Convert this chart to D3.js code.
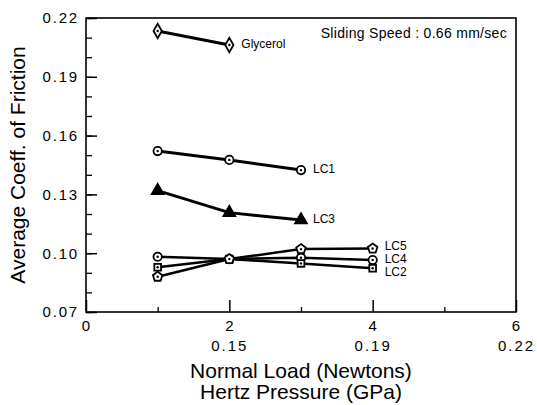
<!DOCTYPE html>
<html>
<head>
<meta charset="utf-8">
<script src="https://cdn.jsdelivr.net/npm/d3@7"></script>
<style>
  html, body { margin: 0; padding: 0; background: #fff; }
  svg { display: block; }
  text { font-family: "Liberation Sans", Arial, Helvetica, sans-serif; fill: #000; }
</style>
</head>
<body>
<svg id="chart" width="537" height="405"></svg>
<script>
// ---- data ----
const loads = [1, 2, 3, 4];
const glycerol = [0.2134, 0.2062];
const lc1 = [0.1521, 0.1476, 0.1424];
const lc3 = [0.1319, 0.1207, 0.1169];
const lc4 = [0.0982, 0.0970, 0.0977, 0.0965];
const lc2 = [0.0928, 0.0970, 0.0948, 0.0923];
const lc5 = [0.0880, 0.0970, 0.1021, 0.1024];
const seriesNames = ["Glycerol", "LC1", "LC3", "LC4", "LC2", "LC5"];
const xTickValues = [0, 2, 4, 6];
const hertzLabels = ["", "0.15", "0.19", "0.22"];
const yTickValues = [0.07, 0.10, 0.13, 0.16, 0.19, 0.22];
const annotation = "Sliding Speed : 0.66 mm/sec";
const xTitle1 = "Normal Load (Newtons)";
const xTitle2 = "Hertz Pressure (GPa)";
const yTitle = "Average Coeff. of Friction";

// ---- layout ----
const W = 537, H = 405;
const m = { left: 86, right: 21, top: 18, bottom: 93 };
const pw = W - m.left - m.right, ph = H - m.top - m.bottom;
const svg = d3.select("#chart");
const g = svg.append("g").attr("transform", `translate(${m.left},${m.top})`);

const x = d3.scaleLinear().domain([0, 6]).range([0, pw]);
const y = d3.scaleLinear().domain([0.07, 0.22]).range([ph, 0]);

// pentagon symbol
const pentagon = {
  draw(ctx, size) {
    const r = Math.sqrt(size / 2.4);
    for (let i = 0; i < 5; i++) {
      const a = -Math.PI / 2 + i * 2 * Math.PI / 5;
      const px = r * Math.cos(a), py = r * Math.sin(a);
      if (i === 0) ctx.moveTo(px, py); else ctx.lineTo(px, py);
    }
    ctx.closePath();
  }
};

const series = [
  { name: seriesNames[0], vals: glycerol, sym: d3.symbolDiamond, size: 60, fill: "#fff", lw: 3, dy: 0 },
  { name: seriesNames[1], vals: lc1, sym: d3.symbolCircle, size: 55, fill: "#fff", lw: 3, dy: 0 },
  { name: seriesNames[2], vals: lc3, sym: d3.symbolTriangle, size: 60, fill: "#000", lw: 3, dy: 0 },
  { name: seriesNames[3], vals: lc4, sym: d3.symbolCircle, size: 55, fill: "#fff", lw: 2.5, dy: 0 },
  { name: seriesNames[4], vals: lc2, sym: d3.symbolSquare, size: 45, fill: "#fff", lw: 2.5, dy: 5 },
  { name: seriesNames[5], vals: lc5, sym: pentagon, size: 60, fill: "#fff", lw: 2.5, dy: -2 }
];

// ---- axes (ticks inward) ----
const yMinor = d3.range(0.07, 0.2201, 0.01).map(v => +v.toFixed(2));
const yAx = g.append("g").call(
  d3.axisLeft(y).tickValues(yMinor).tickSize(-6).tickFormat("")
);
yAx.select(".domain").remove();
yAx.selectAll("line").attr("stroke-width", 1.3);
const yMaj = g.append("g").call(
  d3.axisLeft(y).tickValues(yTickValues).tickSize(-11).tickPadding(7).tickFormat(d3.format(".2f"))
);
yMaj.select(".domain").remove();
yMaj.selectAll("line").attr("stroke-width", 1.5);
yMaj.selectAll("text").attr("font-size", 15).attr("letter-spacing", 1.8)
  .style("font-family", '"Liberation Sans", Arial, sans-serif');

const xMinor = [1, 3, 5];
const xAx = g.append("g").attr("transform", `translate(0,${ph})`).call(
  d3.axisBottom(x).tickValues(xMinor).tickSize(-5).tickFormat("")
);
xAx.select(".domain").remove();
xAx.selectAll("line").attr("stroke-width", 1.3);
const xMaj = g.append("g").attr("transform", `translate(0,${ph})`).call(
  d3.axisBottom(x).tickValues(xTickValues).tickSize(-12).tickPadding(8).tickFormat(d3.format("d"))
);
xMaj.select(".domain").remove();
xMaj.selectAll("line").attr("stroke-width", 1.5);
xMaj.selectAll("text").attr("font-size", 15).attr("letter-spacing", 1)
  .style("font-family", '"Liberation Sans", Arial, sans-serif');
xMaj.selectAll(".tick").append("text")
  .attr("y", 39).attr("text-anchor", "middle")
  .attr("font-size", 15).attr("letter-spacing", 2)
  .style("font-family", '"Liberation Sans", Arial, sans-serif')
  .attr("fill", "#000")
  .text((d, i) => hertzLabels[i]);

// frame
g.append("rect").attr("x", 0).attr("y", 0).attr("width", pw).attr("height", ph)
  .attr("fill", "none").attr("stroke", "#000").attr("stroke-width", 1.6);

// ---- lines and markers ----
const line = d3.line().x(d => x(d[0])).y(d => y(d[1]));
series.forEach(s => {
  const pts = s.vals.map((v, i) => [loads[i], v]);
  g.append("path").datum(pts).attr("d", line)
    .attr("fill", "none").attr("stroke", "#000").attr("stroke-width", s.lw)
    .attr("stroke-linejoin", "round");
  const mk = g.append("g").selectAll("g").data(pts).join("g")
    .attr("transform", d => `translate(${x(d[0])},${y(d[1])})`);
  mk.append("path").attr("d", d3.symbol().type(s.sym).size(s.size))
    .attr("fill", s.fill).attr("stroke", "#000").attr("stroke-width", 1.8);
  if (s.fill === "#fff") mk.append("circle").attr("r", 1.2).attr("fill", "#000");
  const last = pts[pts.length - 1];
  g.append("text").attr("x", x(last[0]) + 12).attr("y", y(last[1]) + s.dy)
    .attr("dominant-baseline", "middle").attr("font-size", 12)
    .text(s.name);
});

// annotation
g.append("text").attr("x", pw - 9).attr("y", 20).attr("text-anchor", "end")
  .attr("font-size", 14).attr("letter-spacing", 0.3).text(annotation);

// axis titles
svg.append("text").attr("x", m.left + pw / 2).attr("y", 378).attr("text-anchor", "middle")
  .attr("font-size", 21).text(xTitle1);
svg.append("text").attr("x", m.left + pw / 2).attr("y", 399).attr("text-anchor", "middle")
  .attr("font-size", 21).text(xTitle2);
svg.append("text").attr("transform", `translate(25,${m.top + ph / 2}) rotate(-90)`)
  .attr("text-anchor", "middle").attr("font-size", 21).text(yTitle);
</script>
</body>
</html>
